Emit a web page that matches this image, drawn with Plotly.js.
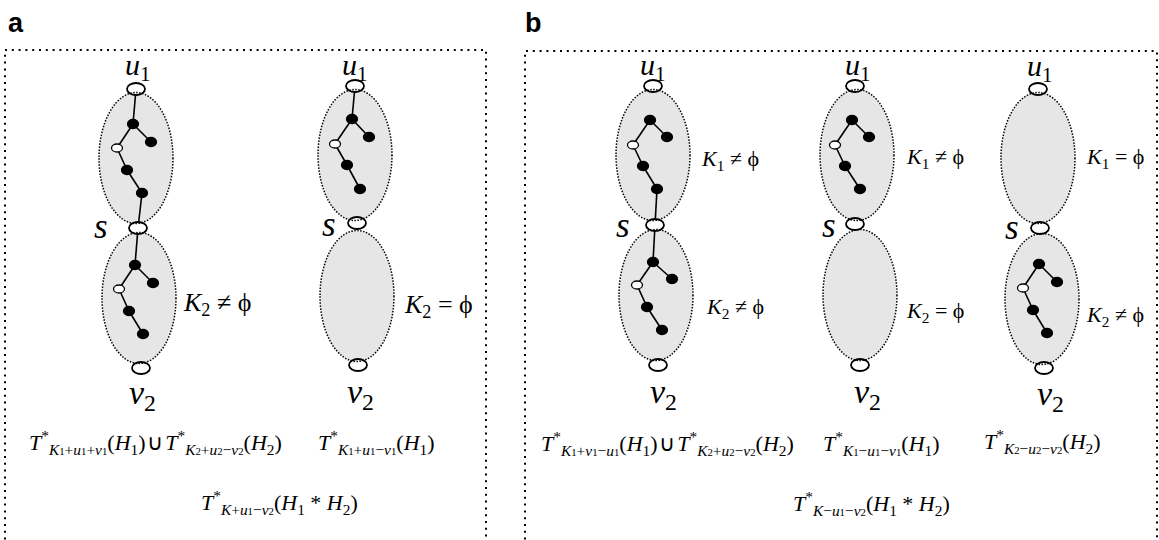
<!DOCTYPE html>
<html><head><meta charset="utf-8">
<script src="https://cdn.plot.ly/plotly-3.0.1.min.js"></script>
<style>html,body{margin:0;padding:0;background:#fff}</style>
</head><body><div id="chart" style="width:1159px;height:540px"></div>
<script>
// ---------- data: graph nodes (vertex positions of the diagram) ----------
const nodeX = [136,138,141,133,151,117,127,142,135,153,119,129,143,
               355,357,358,352,369,335,347,360,
               653,655,658,650,667,633,643,657,653,672,637,647,662,
               855,855,860,852,869,835,845,860,
               1038,1040,1044,1039,1057,1023,1033,1047];
const nodeY = [89,228,368,124,142,148,170,193,265,283,289,311,334,
               86,223,365,119,137,144,165,189,
               86,225,365,120,137,145,166,189,262,279,285,307,330,
               86,224,365,120,137,145,166,189,
               89,228,368,264,282,288,310,333];
const nodeKind = ['hub','hub','hub','fill','fill','open','fill','fill','fill','fill','open','fill','fill',
                  'hub','hub','hub','fill','fill','open','fill','fill',
                  'hub','hub','hub','fill','fill','open','fill','fill','fill','fill','open','fill','fill',
                  'hub','hub','hub','fill','fill','open','fill','fill',
                  'hub','hub','hub','fill','fill','open','fill','fill'];
const edgeFrom = [0,3,3,5,6,7,1,8,8,10,11, 13,16,16,18,19, 24,24,26,27,28,22,29,29,31,32, 37,37,39,40, 45,45,47,48];
const edgeTo   = [3,4,5,6,7,1,8,9,10,11,12, 16,17,18,19,20, 25,26,27,28,22,29,30,31,32,33, 38,39,40,41, 46,47,48,49];

// blobs (components H1 / H2), centres
const blobX = [136,139,355,357,653,656,857,860,1038,1042];
const blobY = [158,298,155,296,155,295,155,295,158,299];

// panel frames
const panelLeft = [5,525];
const panelRight = [486,1157];
const panelTop = [50,51];
const panelLetter = ['a','b'];
const panelLetterX = [16,533];
const panelLetterY = [23,23];

// vertex labels
const uLabelX = [138,355,653,858,1040];
const uLabelY = [67,67,67,67,68];
const sLabelX = [101,329,623,829,1012];
const sLabelY = [226,224,225,225,227];
const vLabelX = [142,360,663,867,1050];
const vLabelY = [395,394,394,394,396];

// K labels
const kaText = ['K2≠','K2='];
const kaX = [182,403];
const kaY = [304,306];
const kbText = ['K1≠','K2≠','K1≠','K2=','K1=','K2≠'];
const kbX = [700,705,905,905,1085,1085];
const kbY = [160,308,158,312,158,316];

// formulas
const it = s => '<i>' + s + '</i>';
const sm = s => '<span style="font-size:70%">' + s + '</span>';
const sub = s => '<sub>' + s + '</sub>';
const v = (l, n) => it(l) + (n ? sm(n) : '');
const T = parts => it('T') + '<sup>*</sup>' + sub(parts);
const H = n => '(' + it('H') + sub(n) + ')';
const CUP = '\u200a∪\u200a';
const formulaText = [
  T(v('K','1') + '+' + v('u','1') + '+' + v('v','1')) + H('1') + CUP + T(v('K','2') + '+' + v('u','2') + '−' + v('v','2')) + H('2'),
  T(v('K','1') + '+' + v('u','1') + '−' + v('v','1')) + H('1'),
  T(v('K') + '+' + v('u','1') + '−' + v('v','2')) + '(' + it('H') + sub('1') + ' * ' + it('H') + sub('2') + ')',
  T(v('K','1') + '+' + v('v','1') + '−' + v('u','1')) + H('1') + CUP + T(v('K','2') + '+' + v('u','2') + '−' + v('v','2')) + H('2'),
  T(v('K','1') + '−' + v('u','1') + '−' + v('v','1')) + H('1'),
  T(v('K','2') + '−' + v('u','2') + '−' + v('v','2')) + H('2'),
  T(v('K') + '−' + v('u','1') + '−' + v('v','2')) + '(' + it('H') + sub('1') + ' * ' + it('H') + sub('2') + ')'
];
const formulaX = [28,317,200,540,822,983,792];
const formulaY = [442,442,502,443,443,441,503];

// ---------- styles ----------
const SERIF = 'Liberation Serif, Times New Roman, serif';
const SANS = 'Liberation Sans, Arial, sans-serif';
const RX = 37, RY = 65.5;
const NODE_R = {hub:[9,6], fill:[5.5,4.5], open:[5.5,4]};

const shapes = [];
for (let i = 0; i < panelLeft.length; i++) {
  shapes.push({type:'path', xref:'x', yref:'y', layer:'below',
    path:`M ${panelLeft[i]} 560 L ${panelLeft[i]} ${panelTop[i]} L ${panelRight[i]} ${panelTop[i]} L ${panelRight[i]} 560`,
    line:{color:'#000', width:2, dash:'2px,4.8px'}});
}
for (let i = 0; i < blobX.length; i++) {
  shapes.push({type:'circle', xref:'x', yref:'y', layer:'below',
    x0:blobX[i]-RX, x1:blobX[i]+RX, y0:blobY[i]-RY, y1:blobY[i]+RY,
    fillcolor:'#e6e6e6', line:{width:0}});
}
for (let i = 0; i < nodeX.length; i++) {
  const k = nodeKind[i], r = NODE_R[k];
  shapes.push({type:'circle', xref:'x', yref:'y', layer:'above',
    x0:nodeX[i]-r[0], x1:nodeX[i]+r[0], y0:nodeY[i]-r[1], y1:nodeY[i]+r[1],
    fillcolor: k === 'fill' ? '#000' : '#fff',
    line:{color:'#000', width: k === 'hub' ? 1.8 : 1.3}});
}
for (let i = 0; i < blobX.length; i++) {
  shapes.push({type:'circle', xref:'x', yref:'y', layer:'above',
    x0:blobX[i]-RX, x1:blobX[i]+RX, y0:blobY[i]-RY, y1:blobY[i]+RY,
    fillcolor:'rgba(0,0,0,0)', line:{color:'#000', width:1.5, dash:'1.5px,1.5px'}});
}

const ex = [], ey = [];
for (let i = 0; i < edgeFrom.length; i++) {
  ex.push(nodeX[edgeFrom[i]], nodeX[edgeTo[i]], null);
  ey.push(nodeY[edgeFrom[i]], nodeY[edgeTo[i]], null);
}
const traces = [{type:'scatter', mode:'lines', x:ex, y:ey, line:{color:'#000', width:1.6},
  hoverinfo:'skip', showlegend:false}];

const ann = [];
const addText = (text, x, y, size, family, xanchor) => ann.push({
  text, x, y, xref:'x', yref:'y', showarrow:false, xanchor: xanchor || 'center', yanchor:'middle',
  font:{family, size, color:'#000'}, borderpad:0});
for (let i = 0; i < panelLetter.length; i++) addText('<b>' + panelLetter[i] + '</b>', panelLetterX[i], panelLetterY[i], 27, SANS);
for (let i = 0; i < uLabelX.length; i++) addText(it('u') + sub('1'), uLabelX[i], uLabelY[i], 30, SERIF);
for (let i = 0; i < sLabelX.length; i++) addText(it('s'), sLabelX[i], sLabelY[i], 35, SERIF);
for (let i = 0; i < vLabelX.length; i++) addText(it('v') + sub('2'), vLabelX[i], vLabelY[i], 34, SERIF);
const kLabel = t => it(t[0]) + sub(t[1]) + ' ' + t[2] + ' ϕ';
for (let i = 0; i < kaText.length; i++) addText(kLabel(kaText[i]), kaX[i], kaY[i], 26, SERIF, 'left');
for (let i = 0; i < kbText.length; i++) addText(kLabel(kbText[i]), kbX[i], kbY[i], 22, SERIF, 'left');
for (let i = 0; i < formulaText.length; i++) addText(formulaText[i], formulaX[i], formulaY[i], 22, SERIF, 'left');

const layout = {
  width:1159, height:540, margin:{l:0,r:0,t:0,b:0,pad:0},
  paper_bgcolor:'#fff', plot_bgcolor:'#fff', showlegend:false,
  xaxis:{range:[0,1159], visible:false, fixedrange:true},
  yaxis:{range:[540,0], visible:false, fixedrange:true},
  shapes, annotations: ann
};
Plotly.newPlot('chart', traces, layout, {displayModeBar:false, staticPlot:true});
</script></body></html>
